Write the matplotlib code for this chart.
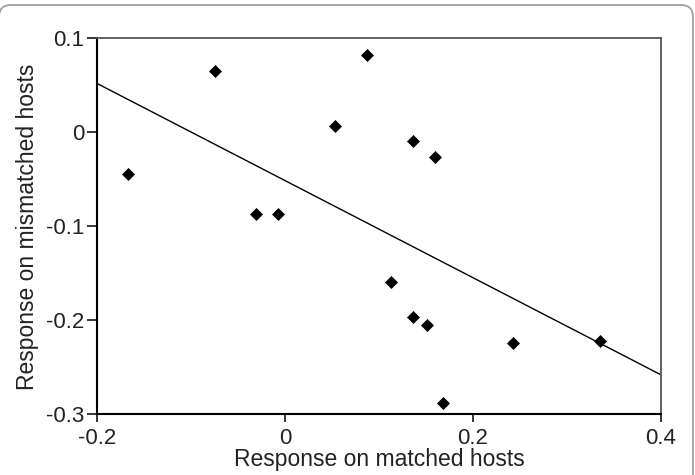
import numpy as np
import matplotlib
matplotlib.use("Agg")
import matplotlib.pyplot as plt
from matplotlib.patches import FancyBboxPatch
from matplotlib.transforms import IdentityTransform

plt.rcParams['font.family'] = ['Liberation Sans', 'DejaVu Sans']

# response values
matched = [-0.167, -0.0745, -0.031, -0.0074, 0.053, 0.087, 0.136, 0.160,
           0.113, 0.136, 0.151, 0.168, 0.243, 0.335]
mismatched = [-0.044, 0.065, -0.087, -0.087, 0.007, 0.082, -0.009, -0.026,
              -0.159, -0.196, -0.205, -0.288, -0.224, -0.222]

# regression line ends
fit_x = [-0.2, 0.4]
fit_y = [0.052, -0.258]

xticks = [-0.2, 0, 0.2, 0.4]
xticklabels = ["-0.2", "0", "0.2", "0.4"]
yticks = [-0.3, -0.2, -0.1, 0, 0.1]
yticklabels = ["-0.3", "-0.2", "-0.1", "0", "0.1"]

fig = plt.figure(figsize=(6.95, 4.75), dpi=100)
ax = fig.add_axes([0.1396, 0.1278, 0.8114, 0.7915])

# rounded frame round the whole figure (only the top shows)
frame = FancyBboxPatch((-1, -30), 694, 500, boxstyle="round,pad=0,rounding_size=12",
                       transform=IdentityTransform(), facecolor="none",
                       edgecolor="#a0a0a0", linewidth=1.3)
fig.add_artist(frame)

ax.plot(fit_x, fit_y, color="black", linewidth=1.0, zorder=2)
ax.plot(matched, mismatched, linestyle="none", marker="D", markersize=6.0,
        color="black", markeredgewidth=0.5, zorder=3)

ax.set_xlim(-0.2, 0.4)
ax.set_ylim(-0.3, 0.1)
ax.set_xticks(xticks)
ax.set_xticklabels(xticklabels)
ax.set_yticks(yticks)
ax.set_yticklabels(yticklabels)

txt = "#222222"
ax.tick_params(axis="x", direction="out", length=6, width=1.1, pad=4, labelsize=16,
               labelcolor=txt)
ax.tick_params(axis="y", direction="out", length=7, width=1.1, pad=2, labelsize=16,
               labelcolor=txt)

for side in ["left", "bottom"]:
    ax.spines[side].set_linewidth(1.5)
    ax.spines[side].set_color("black")
for side in ["top", "right"]:
    ax.spines[side].set_linewidth(1.3)
    ax.spines[side].set_color("#555555")

ax.set_xlabel("Response on matched hosts", fontsize=16.5, labelpad=-1, color=txt)
ax.set_ylabel("Response on mismatched hosts", fontsize=16.5, labelpad=5, color=txt)

fig.savefig("out.png", dpi=100)
